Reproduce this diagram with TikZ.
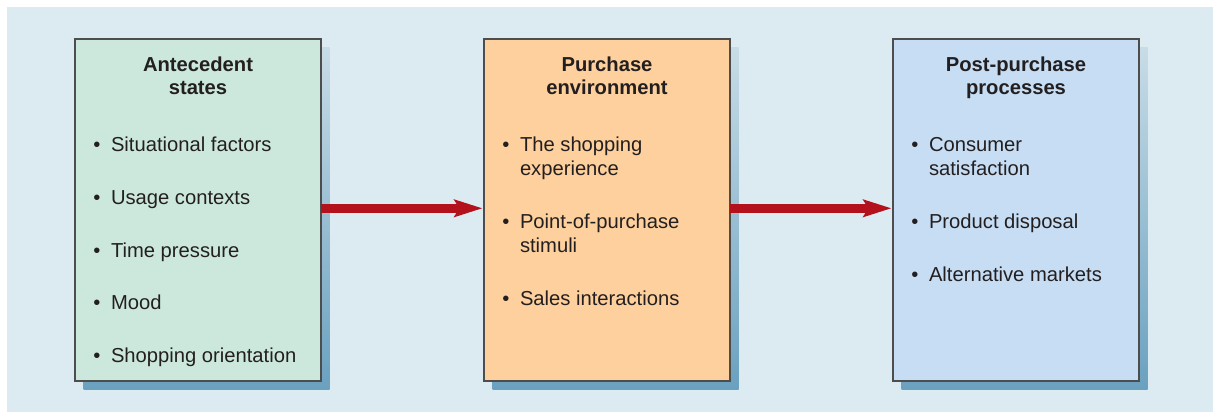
\documentclass[tikz,border=0pt]{standalone}
\usepackage{fontspec}
\setmainfont{Liberation Sans}
\usetikzlibrary{arrows.meta}
\definecolor{bgc}{HTML}{DCEAF1}
\definecolor{fillA}{HTML}{CCE8DD}
\definecolor{fillB}{HTML}{FDD09D}
\definecolor{fillC}{HTML}{C6DDF4}
\definecolor{edgec}{HTML}{4D4D4D}
\definecolor{txtc}{HTML}{231F20}
\definecolor{redc}{HTML}{B3121C}
\definecolor{shtop}{HTML}{C8DCE6}
\definecolor{shbot}{HTML}{6AA1BF}
\begin{document}
\begin{tikzpicture}[x=1pt,y=-1pt,
  panel/.style={draw=edgec, line width=1.5pt, minimum width=246pt, minimum height=342pt, inner sep=0pt, outer sep=0pt},
  shadowbox/.style={minimum width=246pt, minimum height=342pt, inner sep=0pt, outer sep=0pt, top color=shtop, bottom color=shbot},
  txt/.style={font=\fontsize{20.2}{24}\selectfont, text=txtc, inner sep=0pt, outer sep=0pt},
  ttl/.style={txt, font=\fontsize{20.2}{24}\selectfont\bfseries, anchor=base},
  itm/.style={txt, anchor=base west},
  bul/.style={txt, anchor=base},
  redarrow/.style={draw=redc, line width=8.5pt, -{Stealth[length=28pt, width=17pt, inset=5pt]}, shorten >=1.5pt}
]
\useasboundingbox (0,0) rectangle (1215,412);
\fill[white] (0,0) rectangle (1215,412);
\fill[bgc] (7,7) rectangle (1213,412);

% shadows
\node[shadowbox] (s1) at (206.5,218.5) {};
\node[shadowbox] (s2) at (615.5,218.5) {};
\node[shadowbox] (s3) at (1024.5,218.5) {};

% boxes
\node[panel, fill=fillA] (b1) at (198,210) {};
\node[panel, fill=fillB] (b2) at (607,210) {};
\node[panel, fill=fillC] (b3) at (1016,210) {};

% arrows
\draw[redarrow] ([yshift=1.7pt]b1.east) -- ([yshift=1.7pt]b2.west);
\draw[redarrow] ([yshift=1.7pt]b2.east) -- ([yshift=1.7pt]b3.west);

% box 1
\node[ttl] (t1a) at (198,71) {Antecedent};
\node[ttl] (t1b) at (198,94.3) {states};
\node[bul] (p1a) at (97,151.7) {•};
\node[itm] (i1a) at (111,151.7) {Situational factors};
\node[bul] (p1b) at (97,204.3) {•};
\node[itm] (i1b) at (111,204.3) {Usage contexts};
\node[bul] (p1c) at (97,257) {•};
\node[itm] (i1c) at (111,257) {Time pressure};
\node[bul] (p1d) at (97,309.6) {•};
\node[itm] (i1d) at (111,309.6) {Mood};
\node[bul] (p1e) at (97,362.2) {•};
\node[itm] (i1e) at (111,362.2) {Shopping orientation};

% box 2
\node[ttl] (t2a) at (607,71) {Purchase};
\node[ttl] (t2b) at (607,94.3) {environment};
\node[bul] (p2a) at (506,151.7) {•};
\node[itm] (i2a) at (520,151.7) {The shopping};
\node[itm] (i2a2) at (520,175.5) {experience};
\node[bul] (p2b) at (506,228.5) {•};
\node[itm] (i2b) at (520,228.5) {Point-of-purchase};
\node[itm] (i2b2) at (520,252) {stimuli};
\node[bul] (p2c) at (506,305) {•};
\node[itm] (i2c) at (520,305) {Sales interactions};

% box 3
\node[ttl] (t3a) at (1016,71) {Post-purchase};
\node[ttl] (t3b) at (1016,94.3) {processes};
\node[bul] (p3a) at (915,151.7) {•};
\node[itm] (i3a) at (929,151.7) {Consumer};
\node[itm] (i3a2) at (929,175.5) {satisfaction};
\node[bul] (p3b) at (915,228.5) {•};
\node[itm] (i3b) at (929,228.5) {Product disposal};
\node[bul] (p3c) at (915,281.5) {•};
\node[itm] (i3c) at (929,281.5) {Alternative markets};
\end{tikzpicture}
\end{document}
